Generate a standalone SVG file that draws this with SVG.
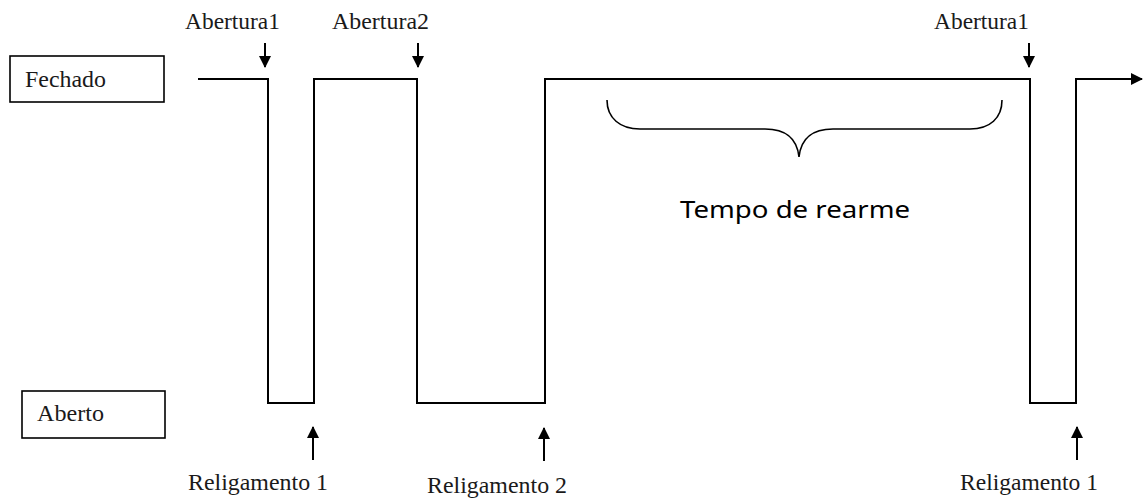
<svg xmlns="http://www.w3.org/2000/svg" width="1143" height="500" viewBox="0 0 1143 500">
  <style>
    .box { fill: #fff; stroke: #000; stroke-width: 1.6; }
    .wave { fill: none; stroke: #000; stroke-width: 2; stroke-linejoin: miter; }
    .arr { stroke: #000; stroke-width: 2; fill: none; }
    .lbl { font-family: "Liberation Serif", "Times New Roman", serif; font-size: 23px; fill: #1a1a1a; }
    .note { font-family: "Noto Sans", "Open Sans", sans-serif; font-size: 24px; fill: #000; }
    .brace { fill: none; stroke: #000; stroke-width: 1.6; }
  </style>
  <defs>
    <marker id="head" markerUnits="userSpaceOnUse" markerWidth="12" markerHeight="12" viewBox="0 0 12 12" refX="11" refY="6" orient="auto">
      <path d="M0,0 L12,6 L0,12 Z" fill="#000"/>
    </marker>
  </defs>

  <!-- state boxes -->
  <g id="fechado">
    <rect class="box" x="10" y="56" width="154" height="46"/>
    <text class="lbl" x="25" y="87" textLength="81" lengthAdjust="spacingAndGlyphs">Fechado</text>
  </g>
  <g id="aberto">
    <rect class="box" x="22" y="391" width="143" height="47"/>
    <text class="lbl" x="37" y="421" textLength="67" lengthAdjust="spacingAndGlyphs">Aberto</text>
  </g>

  <!-- breaker state waveform -->
  <g id="waveform">
    <path class="wave" d="M198,79 H268 V403 H314 V79 H417 V403 H545 V79 H1030 V403 H1076 V79 H1142" marker-end="url(#head)"/>
  </g>

  <!-- event labels -->
  <g id="abertura1-a">
    <text class="lbl" x="185" y="29" textLength="95" lengthAdjust="spacingAndGlyphs">Abertura1</text>
  </g>
  <g id="abertura2">
    <text class="lbl" x="332" y="29" textLength="97" lengthAdjust="spacingAndGlyphs">Abertura2</text>
  </g>
  <g id="abertura1-b">
    <text class="lbl" x="934" y="29" textLength="95" lengthAdjust="spacingAndGlyphs">Abertura1</text>
  </g>
  <g id="religamento1-a">
    <text class="lbl" x="188" y="490" textLength="140" lengthAdjust="spacingAndGlyphs">Religamento 1</text>
  </g>
  <g id="religamento2">
    <text class="lbl" x="427" y="493" textLength="140" lengthAdjust="spacingAndGlyphs">Religamento 2</text>
  </g>
  <g id="religamento1-b">
    <text class="lbl" x="960" y="490" textLength="138" lengthAdjust="spacingAndGlyphs">Religamento 1</text>
  </g>

  <!-- reset time brace -->
  <g id="rearme">
    <path class="brace" d="M607,100 C607,118 620,129 640,129 H765 C785,129 797,138 799,157 C801,138 813,129 833,129 H970 C990,129 1002,118 1002,100"/>
    <text class="note" x="680" y="218" textLength="230" lengthAdjust="spacingAndGlyphs">Tempo de rearme</text>
  </g>

  <!-- event pointers -->
  <g id="connectors">
    <line class="arr" x1="265" y1="43" x2="265" y2="67" marker-end="url(#head)"/>
    <line class="arr" x1="418" y1="43" x2="418" y2="67" marker-end="url(#head)"/>
    <line class="arr" x1="1029" y1="43" x2="1029" y2="67" marker-end="url(#head)"/>
    <line class="arr" x1="313" y1="460" x2="313" y2="427" marker-end="url(#head)"/>
    <line class="arr" x1="544" y1="461" x2="544" y2="428" marker-end="url(#head)"/>
    <line class="arr" x1="1077" y1="460" x2="1077" y2="427" marker-end="url(#head)"/>
  </g>
</svg>
